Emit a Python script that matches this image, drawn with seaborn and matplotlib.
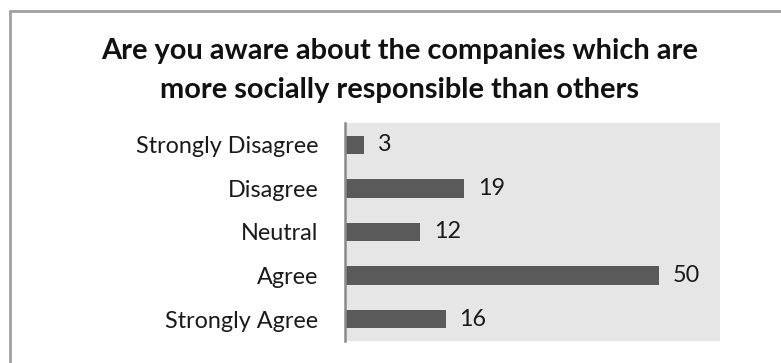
import matplotlib
matplotlib.use("Agg")
import matplotlib.pyplot as plt
import matplotlib.patches as patches
import seaborn as sns
import pandas as pd

categories = ["Strongly Disagree", "Disagree", "Neutral", "Agree", "Strongly Agree"]
values = [3, 19, 12, 50, 16]
title_lines = ["Are you aware about the companies which are",
               "more socially responsible than others"]

sns.set_theme(style="white")
plt.rcParams["font.family"] = ["Lato", "DejaVu Sans"]

df = pd.DataFrame({"category": categories, "value": values})

fig = plt.figure(figsize=(7.81, 3.63), dpi=100)
ax = fig.add_axes([345/781, 1 - 341/363, (720 - 345)/781, (341 - 123)/363])
ax.set_facecolor("#e6e6e6")

sns.barplot(data=df, x="value", y="category", orient="h", color="#5a5a5a",
            saturation=1, width=0.42, ax=ax, order=categories, linewidth=0)

ax.set_xlim(0, 59.7)
ax.set_ylim(4.5, -0.5)
ax.set_xlabel("")
ax.set_ylabel("")
ax.set_xticks([])
ax.tick_params(axis="y", length=0, pad=19, labelsize=16.8, labelcolor="#1a1a1a")
for s in ["top", "right", "bottom"]:
    ax.spines[s].set_visible(False)
ax.spines["left"].set_color("#8a8a8a")
ax.spines["left"].set_linewidth(1.8)

for cont in ax.containers:
    ax.bar_label(cont, labels=[str(v) for v in values], padding=10,
                 fontsize=16.8, color="#1a1a1a")

for line, base in zip(title_lines, [59, 98]):
    fig.text(400/781, 1 - base/363, line, ha="center", va="baseline",
             fontsize=20.9, fontweight="bold", color="#111111")

border = patches.Rectangle((10/781, -0.05), 1.2, 1 - 11/363 + 0.05,
                           transform=fig.transFigure, fill=False,
                           edgecolor="#a0a0a0", linewidth=2, clip_on=False)
fig.patches.append(border)

fig.savefig("out.png", dpi=100, facecolor="white")
